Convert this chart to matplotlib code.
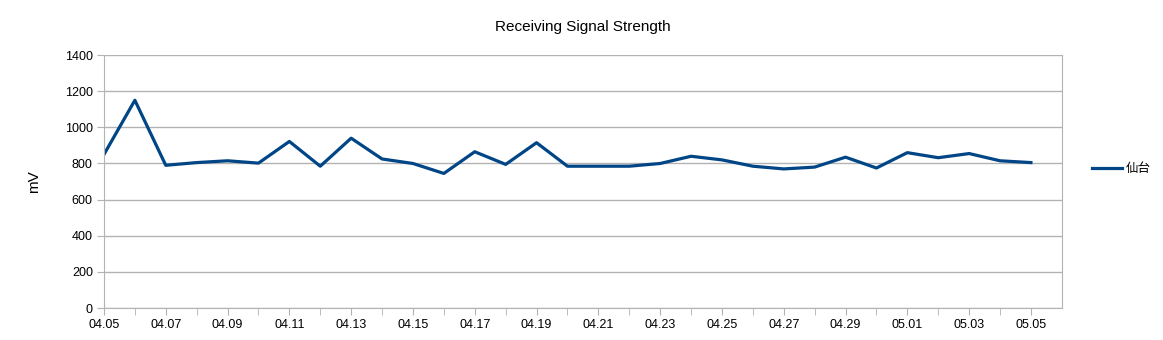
import matplotlib.pyplot as plt

plt.rcParams['font.family'] = ['Liberation Sans', 'Noto Sans CJK JP', 'DejaVu Sans']

# Data
dates = ['04.05', '04.06', '04.07', '04.08', '04.09', '04.10', '04.11', '04.12',
         '04.13', '04.14', '04.15', '04.16', '04.17', '04.18', '04.19', '04.20',
         '04.21', '04.22', '04.23', '04.24', '04.25', '04.26', '04.27', '04.28',
         '04.29', '04.30', '05.01', '05.02', '05.03', '05.04', '05.05']
sendai = [850, 1150, 790, 805, 815, 802, 922, 785, 940, 825, 800, 745, 865, 795,
          915, 785, 785, 785, 800, 840, 820, 785, 770, 780, 835, 775, 860, 832,
          855, 815, 805]

fig = plt.figure(figsize=(11.63, 3.4), dpi=100)
ax = fig.add_axes([0.0894, 0.094, 0.8236, 0.744])

x = list(range(len(dates)))
ax.plot(x, sendai, color='#004586', linewidth=2.3, label='仙台')

ax.set_xlim(0, len(dates))
ax.set_ylim(0, 1400)
ax.set_yticks(range(0, 1401, 200))
ax.set_xticks(x[::2])
ax.set_xticklabels(dates[::2])
ax.set_xticks(x, minor=True)

ax.grid(True, axis='y', color='#b3b3b3', linewidth=1)
ax.set_axisbelow(True)
for side in ['left', 'right', 'bottom', 'top']:
    ax.spines[side].set_color('#b3b3b3')
ax.spines['top'].set_visible(False)

ax.tick_params(axis='both', which='both', color='#b3b3b3', labelsize=9, length=5)
ax.tick_params(axis='x', which='both', direction='out', pad=3)
ax.tick_params(axis='y', pad=3)

ax.set_title('Receiving Signal Strength', fontsize=11, pad=17)
ax.set_ylabel('mV', fontsize=11, labelpad=17)

ax.legend(loc='center left', bbox_to_anchor=(1.02, 0.55), frameon=False,
          fontsize=9, handlelength=2.4, handletextpad=0.3)

fig.savefig('out.png', dpi=100)
